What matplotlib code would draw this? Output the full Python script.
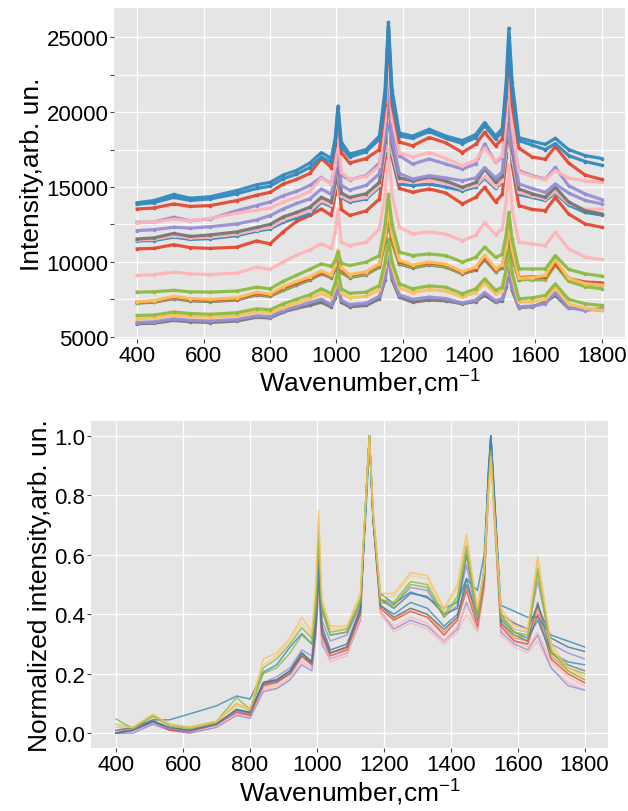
import matplotlib
matplotlib.use("Agg")
import matplotlib.pyplot as plt
from matplotlib.ticker import MultipleLocator

# shared wavenumber grid (cm-1) the spectra were read at
wavenumber = [400, 450, 510, 560, 620, 700, 760, 800, 840, 880,
              920, 955, 985, 997, 1005, 1015, 1040, 1090, 1130, 1147,
              1157, 1168, 1190, 1230, 1280, 1330, 1380, 1420, 1447, 1480,
              1500, 1512, 1520, 1530, 1550, 1590, 1630, 1660, 1700, 1750,
              1800]

# ---- raw spectra (top panel), intensity arb. un. ----
raw_blue1 = [13950, 14090, 14500, 14250, 14350, 14760, 15150, 15300, 15800, 16100,
             16600, 17300, 16900, 18300, 20400, 18000, 17200, 17500, 18400, 21500,
             26000, 21500, 18600, 18400, 18850, 18400, 18100, 18500, 19300, 18400,
             18900, 22000, 25600, 22000, 18300, 18050, 17850, 18250, 17500, 17100,
             16900]
raw_blue2 = [13850, 13950, 14300, 14100, 14200, 14550, 14900, 15050, 15550, 15850,
             16300, 17000, 16650, 18000, 20000, 17700, 17000, 17350, 18200, 21000,
             25500, 21000, 18400, 18250, 18700, 18250, 17900, 18300, 19100, 18200,
             18700, 21500, 25000, 21500, 18100, 17800, 17500, 17900, 17100, 16700,
             16450]
raw_red1 = [13530, 13600, 13870, 13700, 13760, 14090, 14450, 14640, 15200, 15500,
            15900, 16900, 16300, 17800, 20300, 17300, 16600, 16900, 17500, 20500,
            25700, 20500, 18000, 17750, 18300, 17950, 17300, 17850, 18650, 17750,
            18200, 21000, 24500, 20500, 17600, 17000, 16850, 17700, 16600, 15800,
            15500]
raw_pink1 = [12600, 12650, 12850, 12750, 12900, 13250, 13450, 13600, 14000, 14300,
             14700, 15600, 15200, 16500, 18500, 16000, 15500, 15700, 16400, 19500,
             24000, 19500, 17300, 17000, 17300, 16900, 16420, 16800, 17600, 16700,
             17100, 19500, 23000, 19000, 16000, 15700, 15500, 16100, 15600, 15400,
             15310]
raw_purple1 = [12640, 12650, 12980, 12750, 12870, 13420, 13760, 14000, 14420, 14700,
               15100, 15640, 15200, 16500, 18000, 15800, 15490, 15760, 16600, 19000,
               22500, 19000, 17090, 16530, 16870, 16530, 16200, 16530, 17870, 16640,
               17000, 19000, 22000, 18500, 16090, 15760, 15530, 16310, 15090, 14530,
               14160]
raw_purple2 = [12090, 12150, 12310, 12250, 12350, 12530, 12800, 13090, 13530, 13900,
               14200, 14870, 14500, 15800, 17500, 15100, 14800, 15100, 15900, 18500,
               22000, 18200, 15900, 15530, 15760, 15600, 15420, 15600, 16300, 15600,
               16000, 18500, 21500, 18000, 15200, 14900, 14640, 15200, 14600, 14100,
               13870]
raw_gray1 = [11530, 11600, 11900, 11700, 11800, 12000, 12300, 12500, 13000, 13300,
             13650, 14310, 14000, 15300, 17000, 14600, 14300, 14550, 15300, 18000,
             21500, 17800, 15600, 15420, 15650, 15400, 14980, 15300, 16200, 15300,
             15700, 18000, 21000, 17500, 14870, 14550, 14310, 14980, 14000, 13420,
             13200]
raw_pink2 = [11470, 11500, 11750, 11600, 11650, 11850, 12150, 12300, 12800, 13100,
             13420, 14090, 13800, 15000, 16500, 14400, 14100, 14300, 15100, 17500,
             21000, 17300, 15400, 15310, 15430, 15250, 14870, 15100, 15700, 15000,
             15400, 17500, 20500, 17000, 14650, 14400, 14200, 14700, 13900, 13500,
             13530]
raw_blue3 = [11400, 11420, 11650, 11500, 11550, 11750, 12050, 12200, 12650, 12950,
             13200, 13980, 13700, 14900, 16300, 14300, 14000, 14200, 15000, 17300,
             20500, 17000, 15200, 15090, 15200, 15000, 14750, 15000, 15600, 14900,
             15300, 17300, 20000, 16800, 14500, 14300, 14100, 14600, 13800, 13300,
             13130]
raw_red2 = [10870, 10900, 11150, 10950, 10900, 10980, 11400, 11200, 12000, 12700,
            13100, 13530, 13100, 14500, 16500, 13500, 13100, 13400, 14200, 17000,
            21000, 17000, 14900, 14650, 14870, 14600, 13870, 14300, 14980, 14000,
            14500, 17000, 20500, 16500, 13760, 13500, 13420, 14310, 13200, 12530,
            12310]
raw_pink3 = [9090, 9150, 9310, 9200, 9150, 9250, 9650, 9500, 10000, 10450,
             10800, 11200, 10900, 12000, 13500, 11300, 11090, 11300, 12200, 14500,
             17500, 14500, 12310, 11870, 12000, 11850, 11420, 11760, 12640, 11800,
             12200, 14000, 16500, 13500, 11310, 11200, 11090, 11980, 10870, 10310,
             10160]
raw_green1 = [7980, 8000, 8100, 8000, 7980, 8050, 8310, 8200, 8700, 9100,
              9500, 9870, 9700, 10100, 10650, 9900, 9760, 9980, 10420, 12500,
              14500, 12500, 10650, 10420, 10530, 10420, 9980, 10300, 10980, 10300,
              10500, 11800, 13300, 11500, 9530, 9530, 9530, 10420, 9500, 9200,
              9050]
raw_yellow1 = [7350, 7400, 7700, 7550, 7500, 7600, 7980, 7850, 8350, 8700,
               9000, 9400, 9100, 9800, 10800, 9600, 9150, 9350, 9870, 11800,
               13600, 11800, 10100, 9800, 10000, 9850, 9350, 9650, 10450, 9550,
               9800, 11000, 12500, 10800, 8900, 8950, 9100, 10150, 8900, 8550,
               8450]
raw_red3 = [7320, 7380, 7650, 7500, 7450, 7550, 7900, 7800, 8250, 8600,
            8900, 9300, 9050, 9700, 10500, 9500, 9100, 9300, 9800, 11700,
            13400, 11600, 10000, 9750, 9950, 9800, 9300, 9550, 10300, 9450,
            9700, 11000, 12300, 10700, 8950, 9000, 9000, 9900, 8900, 8650,
            8600]
raw_green2 = [7280, 7350, 7600, 7450, 7400, 7500, 7850, 7750, 8150, 8500,
              8850, 9250, 9000, 9600, 10300, 9400, 9000, 9200, 9700, 11500,
              13000, 11400, 9900, 9650, 9850, 9700, 9250, 9500, 10250, 9400,
              9650, 10800, 12000, 10500, 8850, 8800, 8800, 9800, 8700, 8350,
              8200]
raw_gray2 = [7250, 7300, 7550, 7400, 7350, 7450, 7800, 7700, 8100, 8450,
             8800, 9200, 8950, 9500, 10200, 9300, 8950, 9150, 9650, 11400,
             12800, 11300, 9850, 9600, 9800, 9650, 9200, 9450, 10150, 9350,
             9600, 10700, 11800, 10400, 8800, 8850, 8950, 9900, 8800, 8550,
             8450]
raw_green3 = [6420, 6450, 6650, 6550, 6500, 6600, 6870, 6800, 7200, 7500,
              7800, 8200, 7870, 8600, 9500, 8200, 7900, 7980, 8420, 10000,
              11500, 10000, 8530, 8200, 8400, 8310, 7870, 8200, 8870, 8100,
              8300, 9500, 11000, 9300, 7530, 7600, 7760, 8530, 7500, 7200,
              7090]
raw_yellow2 = [6200, 6250, 6450, 6350, 6300, 6400, 6650, 6600, 6950, 7250,
               7550, 7900, 7600, 8300, 9200, 7900, 7600, 7700, 8150, 9700,
               11200, 9700, 8250, 7950, 8150, 8050, 7650, 7950, 8600, 7850,
               8050, 9200, 10700, 9000, 7300, 7350, 7500, 8300, 7200, 6900,
               6760]
raw_purple3 = [5950, 6000, 6200, 6100, 6050, 6150, 6400, 6350, 6750, 7000,
               7300, 7500, 7150, 7800, 8600, 7450, 7150, 7250, 7700, 9000,
               10500, 9000, 7800, 7500, 7650, 7550, 7250, 7450, 7950, 7400,
               7550, 8500, 9800, 8300, 7000, 7050, 7200, 7950, 6950, 6750,
               6900]
raw_gray3 = [5870, 5900, 6090, 6000, 5950, 6050, 6300, 6250, 6650, 6900,
             7090, 7310, 6980, 7600, 8500, 7300, 7000, 7090, 7530, 8800,
             10500, 8800, 7640, 7310, 7450, 7400, 7200, 7350, 7760, 7300,
             7400, 8300, 9500, 8100, 6950, 7000, 7310, 7760, 6900, 6870,
             6760]

# ---- normalized spectra (bottom panel) ----
norm_yellow1 = [0.02, 0.02, 0.065, 0.03, 0.02, 0.04, 0.10, 0.08, 0.25, 0.27,
                0.32, 0.39, 0.34, 0.50, 0.75, 0.45, 0.36, 0.36, 0.47, 0.80,
                1.00, 0.75, 0.47, 0.47, 0.54, 0.53, 0.42, 0.50, 0.67, 0.42,
                0.55, 0.80, 0.93, 0.75, 0.42, 0.36, 0.35, 0.595, 0.30, 0.22,
                0.19]
norm_yellow2 = [0.03, 0.02, 0.06, 0.03, 0.02, 0.04, 0.09, 0.08, 0.23, 0.26,
                0.31, 0.37, 0.33, 0.48, 0.72, 0.44, 0.35, 0.355, 0.46, 0.80,
                1.00, 0.74, 0.46, 0.46, 0.53, 0.52, 0.41, 0.49, 0.65, 0.41,
                0.55, 0.80, 0.92, 0.74, 0.41, 0.35, 0.34, 0.58, 0.29, 0.21,
                0.18]
norm_green1 = [0.048, 0.015, 0.06, 0.03, 0.02, 0.04, 0.12, 0.08, 0.22, 0.25,
               0.30, 0.355, 0.32, 0.45, 0.68, 0.43, 0.34, 0.35, 0.45, 0.80,
               1.00, 0.75, 0.45, 0.44, 0.51, 0.50, 0.40, 0.46, 0.63, 0.40,
               0.55, 0.82, 0.95, 0.75, 0.40, 0.34, 0.33, 0.555, 0.28, 0.21,
               0.18]
norm_green2 = [0.03, 0.02, 0.055, 0.025, 0.015, 0.035, 0.10, 0.075, 0.20, 0.22,
               0.27, 0.33, 0.30, 0.42, 0.64, 0.41, 0.33, 0.34, 0.44, 0.80,
               1.00, 0.74, 0.44, 0.43, 0.50, 0.49, 0.39, 0.45, 0.61, 0.39,
               0.54, 0.82, 0.95, 0.75, 0.39, 0.33, 0.32, 0.54, 0.27, 0.22,
               0.20]
norm_blue1 = [0.01, 0.02, 0.045, 0.045, 0.065, 0.092, 0.125, 0.115, 0.205, 0.23,
              0.29, 0.335, 0.30, 0.42, 0.55, 0.42, 0.33, 0.34, 0.44, 0.75,
              0.98, 0.72, 0.47, 0.435, 0.475, 0.455, 0.42, 0.44, 0.52, 0.48,
              0.60, 0.85, 1.00, 0.80, 0.43, 0.41, 0.39, 0.39, 0.33, 0.31,
              0.29]
norm_blue2 = [0.0, 0.01, 0.04, 0.015, 0.01, 0.03, 0.08, 0.07, 0.17, 0.18,
              0.21, 0.27, 0.24, 0.36, 0.52, 0.34, 0.27, 0.29, 0.41, 0.78,
              1.00, 0.72, 0.43, 0.40, 0.44, 0.42, 0.36, 0.40, 0.50, 0.40,
              0.55, 0.85, 1.00, 0.80, 0.38, 0.34, 0.32, 0.38, 0.27, 0.24,
              0.23]
norm_gray1 = [0.0, 0.01, 0.04, 0.02, 0.01, 0.03, 0.08, 0.07, 0.17, 0.18,
              0.21, 0.27, 0.24, 0.38, 0.60, 0.36, 0.28, 0.30, 0.42, 0.78,
              1.00, 0.72, 0.45, 0.42, 0.47, 0.46, 0.40, 0.42, 0.60, 0.40,
              0.55, 0.85, 1.00, 0.80, 0.40, 0.37, 0.35, 0.43, 0.32, 0.29,
              0.275]
norm_gray2 = [0.0, 0.01, 0.04, 0.015, 0.01, 0.03, 0.075, 0.065, 0.165, 0.175,
              0.20, 0.26, 0.235, 0.36, 0.56, 0.34, 0.27, 0.29, 0.41, 0.80,
              1.00, 0.73, 0.43, 0.39, 0.42, 0.40, 0.35, 0.39, 0.52, 0.38,
              0.52, 0.88, 1.00, 0.82, 0.37, 0.33, 0.31, 0.44, 0.27, 0.23,
              0.21]
norm_purple1 = [0.0, 0.01, 0.035, 0.015, 0.008, 0.03, 0.075, 0.065, 0.17, 0.19,
                0.22, 0.28, 0.26, 0.40, 0.58, 0.38, 0.31, 0.33, 0.43, 0.80,
                1.00, 0.73, 0.45, 0.43, 0.49, 0.48, 0.39, 0.43, 0.567, 0.38,
                0.55, 0.85, 1.00, 0.80, 0.39, 0.35, 0.34, 0.513, 0.30, 0.27,
                0.25]
norm_purple2 = [0.0, 0.0, 0.03, 0.01, 0.0, 0.02, 0.06, 0.05, 0.14, 0.15,
                0.18, 0.23, 0.21, 0.33, 0.50, 0.30, 0.25, 0.27, 0.38, 0.80,
                1.00, 0.72, 0.41, 0.35, 0.38, 0.36, 0.31, 0.35, 0.44, 0.35,
                0.50, 0.82, 0.98, 0.78, 0.34, 0.30, 0.28, 0.33, 0.22, 0.16,
                0.145]
norm_red1 = [0.0, 0.02, 0.04, 0.01, 0.005, 0.03, 0.07, 0.06, 0.16, 0.17,
             0.20, 0.26, 0.23, 0.35, 0.55, 0.33, 0.26, 0.28, 0.40, 0.80,
             1.00, 0.72, 0.42, 0.38, 0.41, 0.39, 0.33, 0.38, 0.48, 0.36,
             0.50, 0.80, 0.97, 0.75, 0.36, 0.31, 0.30, 0.40, 0.25, 0.20,
             0.17]
norm_red2 = [0.01, 0.015, 0.045, 0.015, 0.01, 0.035, 0.075, 0.065, 0.165, 0.175,
             0.205, 0.265, 0.235, 0.36, 0.56, 0.34, 0.27, 0.285, 0.41, 0.80,
             1.00, 0.73, 0.43, 0.385, 0.42, 0.40, 0.34, 0.39, 0.49, 0.37,
             0.51, 0.80, 0.96, 0.74, 0.37, 0.32, 0.31, 0.42, 0.26, 0.21,
             0.18]
norm_pink1 = [0.0, 0.005, 0.03, 0.01, 0.0, 0.02, 0.06, 0.055, 0.15, 0.15,
              0.18, 0.24, 0.22, 0.33, 0.48, 0.31, 0.24, 0.26, 0.38, 0.80,
              1.00, 0.72, 0.40, 0.34, 0.37, 0.35, 0.30, 0.34, 0.40, 0.34,
              0.48, 0.78, 0.93, 0.72, 0.33, 0.29, 0.27, 0.31, 0.22, 0.17,
              0.145]
norm_pink2 = [0.005, 0.01, 0.035, 0.015, 0.005, 0.025, 0.065, 0.06, 0.155, 0.16,
              0.19, 0.25, 0.23, 0.34, 0.50, 0.32, 0.25, 0.27, 0.39, 0.80,
              1.00, 0.72, 0.41, 0.36, 0.39, 0.37, 0.31, 0.36, 0.43, 0.35,
              0.50, 0.80, 0.95, 0.74, 0.35, 0.31, 0.29, 0.34, 0.24, 0.19,
              0.16]

RED, BLUE, PURPLE, GRAY = "#E24A33", "#348ABD", "#988ED5", "#777777"
YELLOW, GREEN, PINK = "#FBC15E", "#8EBA42", "#FFB5B8"

raw_series = [
    (raw_gray3, GRAY), (raw_purple3, PURPLE), (raw_yellow2, YELLOW), (raw_green3, GREEN),
    (raw_gray2, GRAY), (raw_green2, GREEN), (raw_red3, RED), (raw_yellow1, YELLOW),
    (raw_green1, GREEN), (raw_pink3, PINK), (raw_red2, RED), (raw_blue3, BLUE),
    (raw_pink2, PINK), (raw_gray1, GRAY), (raw_purple2, PURPLE), (raw_purple1, PURPLE),
    (raw_pink1, PINK), (raw_red1, RED), (raw_blue2, BLUE), (raw_blue1, BLUE),
]
norm_series = [
    (norm_pink1, PINK), (norm_purple2, PURPLE), (norm_pink2, PINK), (norm_red1, RED),
    (norm_red2, "#E8925A"), (norm_blue2, BLUE), (norm_gray2, GRAY), (norm_purple1, PURPLE),
    (norm_gray1, "#5A6E8C"), (norm_blue1, BLUE), (norm_green2, GREEN), (norm_yellow2, "#F5D08A"),
    (norm_green1, GREEN), (norm_yellow1, YELLOW),
]

plt.rcParams["font.family"] = ["Liberation Sans", "DejaVu Sans"]
plt.rcParams["mathtext.fontset"] = "custom"
plt.rcParams["mathtext.rm"] = "Liberation Sans"

fig = plt.figure(figsize=(6.28, 8.12), dpi=100)
fig.patch.set_facecolor("white")
ax1 = fig.add_axes([0.1815, 0.5813, 0.8137, 0.4076])
ax2 = fig.add_axes([0.1449, 0.0775, 0.8232, 0.4028])


def style(ax):
    ax.set_facecolor("#E5E5E5")
    for s in ax.spines.values():
        s.set_visible(False)
    ax.grid(True, which="both", color="white", linewidth=0.9)
    ax.set_axisbelow(True)
    ax.tick_params(which="both", labelsize=16, labelcolor="black",
                   color="#444444", length=3, width=0.8, pad=1)
    ax.xaxis.set_major_locator(MultipleLocator(200))


for vals, c in raw_series:
    ax1.plot(wavenumber, vals, color=c, lw=2.3, alpha=0.95,
             marker="o", ms=1.6, solid_joinstyle="round")
style(ax1)
ax1.set_xlim(330, 1870)
ax1.set_ylim(4850, 26950)
ax1.yaxis.set_major_locator(MultipleLocator(5000))
ax1.yaxis.set_minor_locator(MultipleLocator(2500))
ax1.tick_params(axis="y", which="minor", labelleft=False)
ax1.set_xlabel("Wavenumber,cm$^{\\mathregular{-1}}$", fontsize=19, labelpad=0)
ax1.set_ylabel("Intensity,arb. un.", fontsize=19, labelpad=2)

for vals, c in norm_series:
    ax2.plot(wavenumber, vals, color=c, lw=1.1, alpha=0.8)
style(ax2)
ax2.set_xlim(325, 1870)
ax2.set_ylim(-0.05, 1.05)
ax2.yaxis.set_major_locator(MultipleLocator(0.2))
ax2.set_xlabel("Wavenumber,cm$^{\\mathregular{-1}}$", fontsize=19, labelpad=0)
ax2.set_ylabel("Normalized intensity,arb. un.", fontsize=19, labelpad=2)

fig.savefig("out.png", dpi=100)
